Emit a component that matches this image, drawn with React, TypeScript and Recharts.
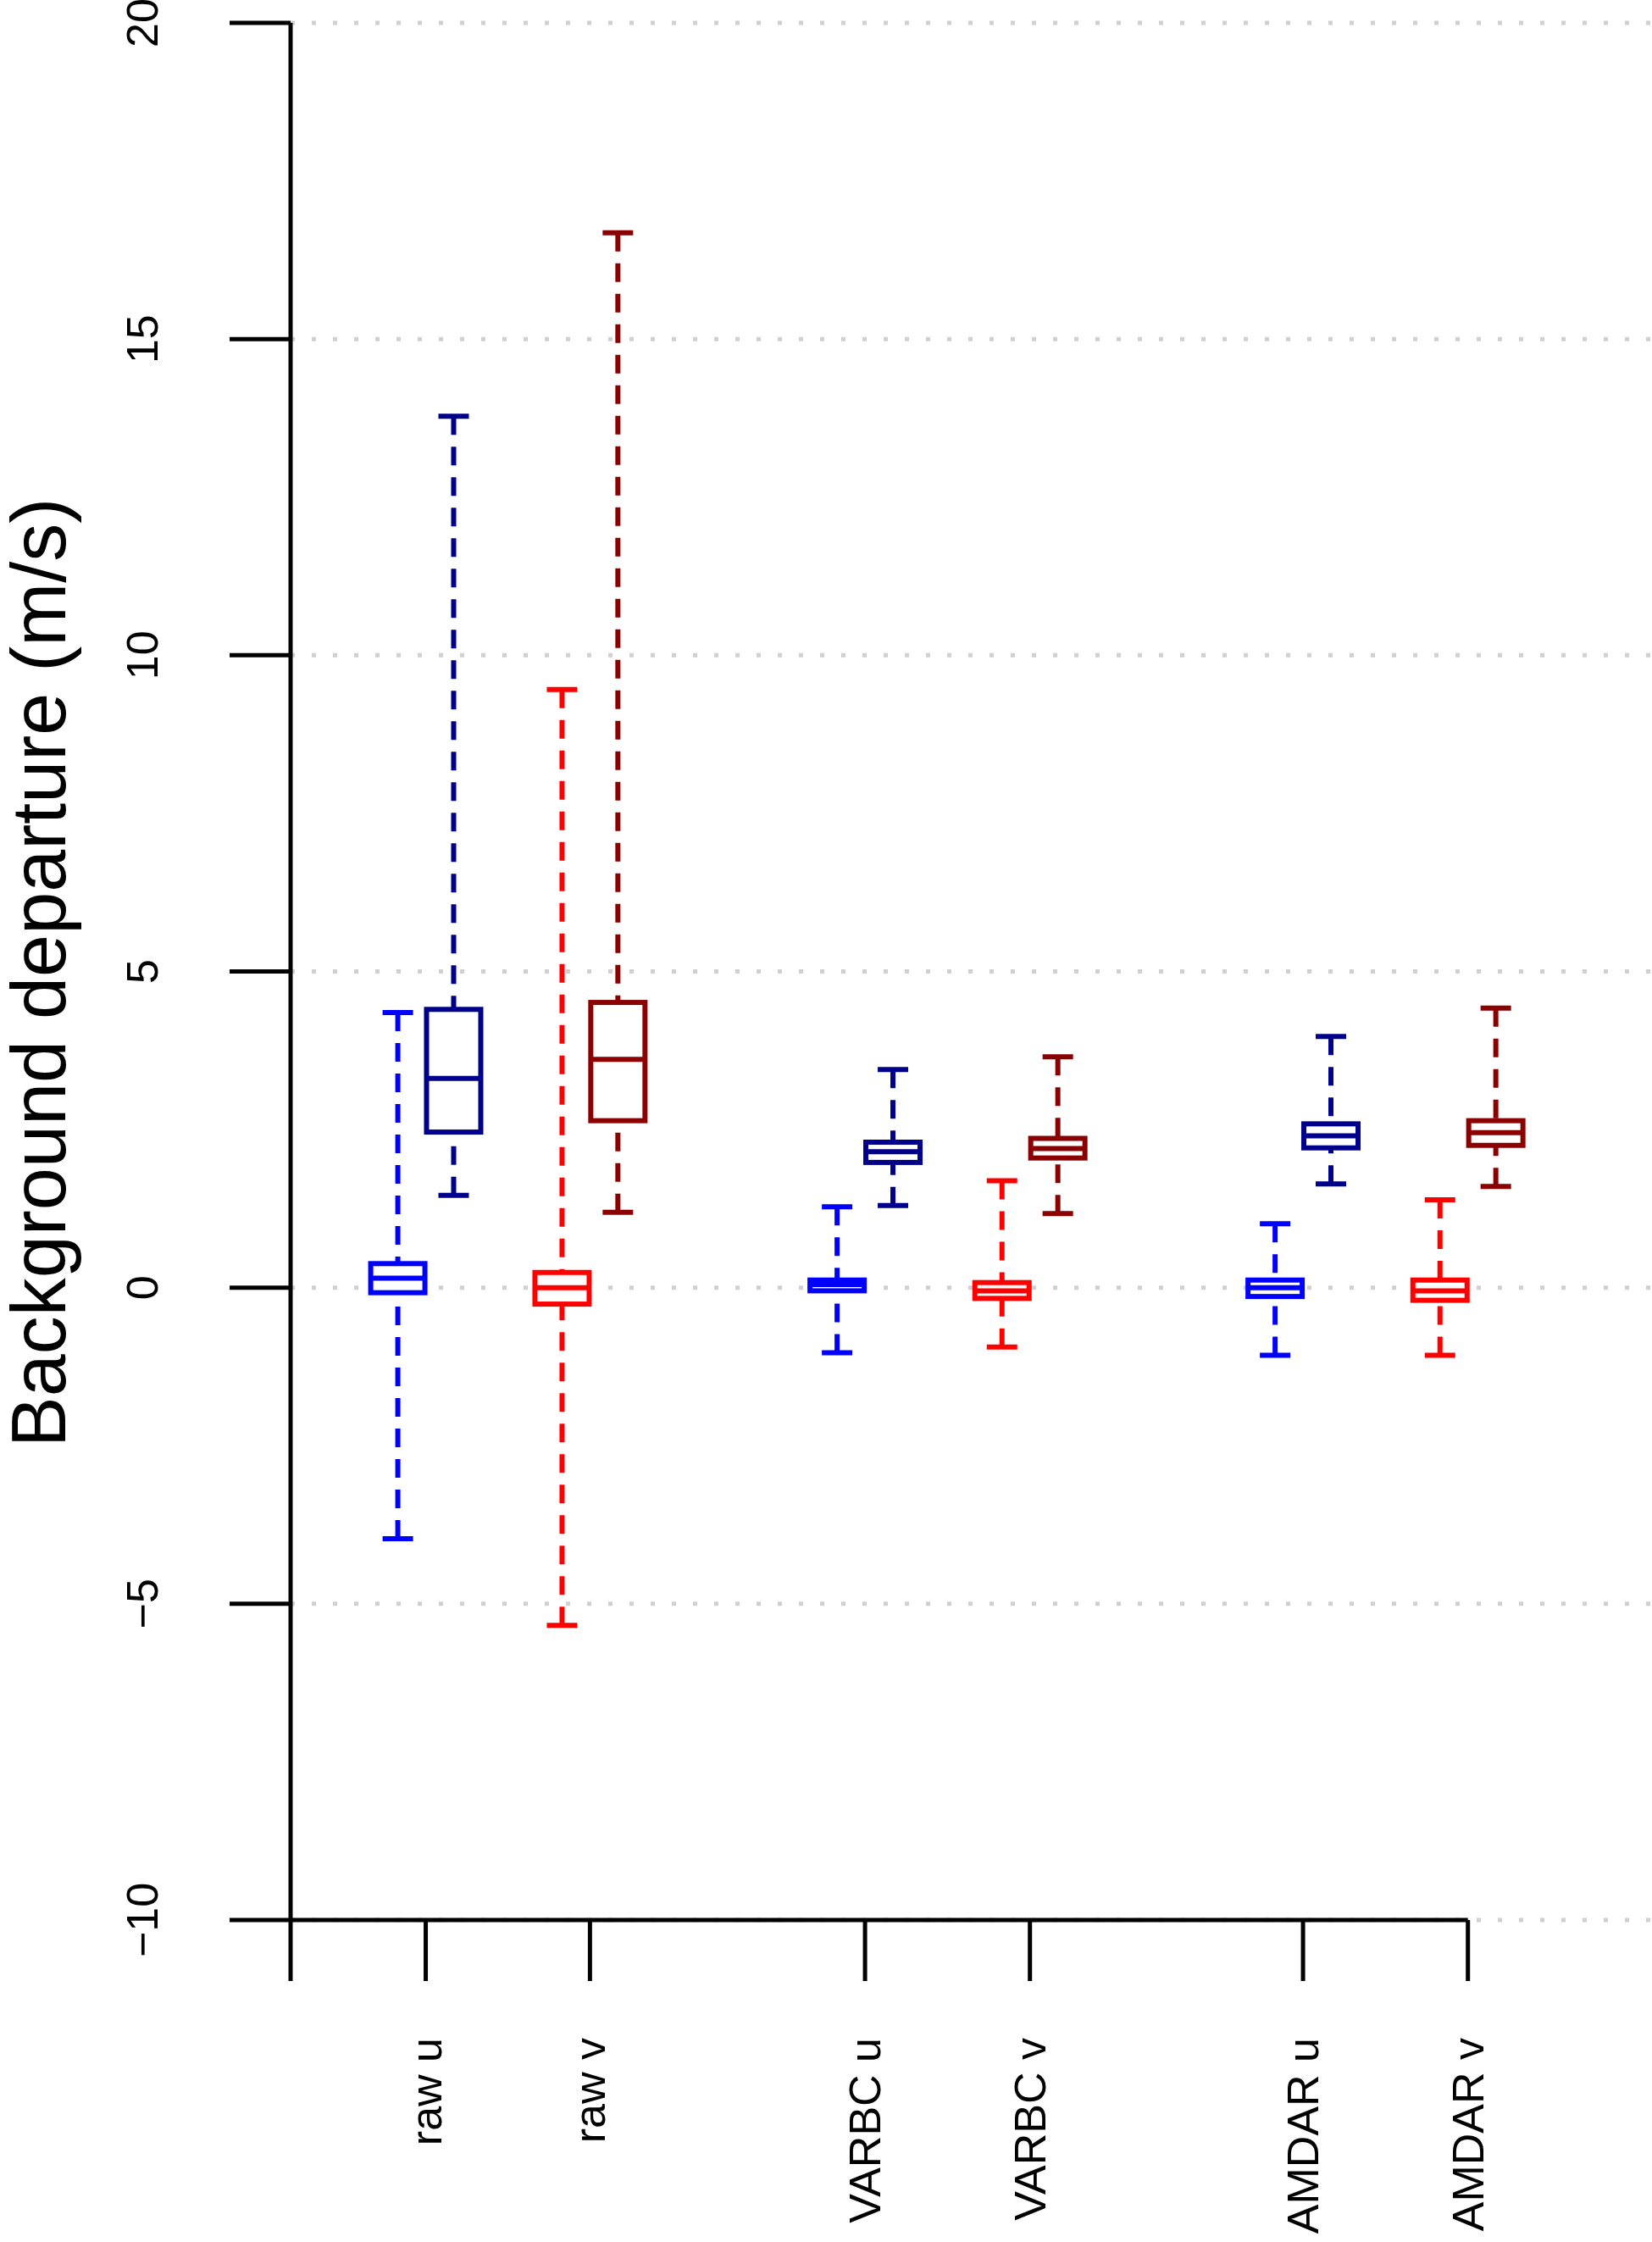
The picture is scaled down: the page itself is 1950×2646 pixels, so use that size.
import React from "react";
import {
  ComposedChart,
  Scatter,
  XAxis,
  YAxis,
  CartesianGrid,
  ReferenceLine,
} from "recharts";

const categories = ["", "raw u", "raw v", "VARBC u", "VARBC v", "AMDAR u", "AMDAR v"];
const tickPos = [0, 0.823, 1.823, 3.498, 4.502, 6.165, 7.169];
const yTicks = [-10, -5, 0, 5, 10, 15, 20];

// u groups sit at tickPos[1], [3], [5]; v groups at [2], [4], [6]
const uBlueLow = [-3.97, -1.03, -1.07];
const uBlueQ1 = [-0.08, -0.05, -0.14];
const uBlueMed = [0.15, 0.05, 0.0];
const uBlueQ3 = [0.38, 0.12, 0.12];
const uBlueHigh = [4.35, 1.28, 1.01];

const uNavyLow = [1.46, 1.3, 1.64];
const uNavyQ1 = [2.46, 1.98, 2.21];
const uNavyMed = [3.31, 2.15, 2.4];
const uNavyQ3 = [4.4, 2.3, 2.59];
const uNavyHigh = [13.78, 3.45, 3.97];

const vRedLow = [-5.34, -0.94, -1.07];
const vRedQ1 = [-0.26, -0.17, -0.2];
const vRedMed = [0.0, -0.05, -0.05];
const vRedQ3 = [0.24, 0.08, 0.12];
const vRedHigh = [9.46, 1.69, 1.39];

const vDarkLow = [1.19, 1.17, 1.6];
const vDarkQ1 = [2.64, 2.05, 2.25];
const vDarkMed = [3.61, 2.2, 2.45];
const vDarkQ3 = [4.51, 2.36, 2.64];
const vDarkHigh = [16.68, 3.65, 4.42];

const W = 1950;
const H = 2646;
const TOP = 27;
const BOTTOM = 2266;
const LEFT = 343;
const Y_MIN = -10;
const Y_MAX = 20;
const K = (BOTTOM - TOP) / (Y_MAX - Y_MIN);
const OFF = 0.17;
const FONT = "Liberation Sans, Arial, sans-serif";

function build(pos: number[], off: number, low: number[], q1: number[], med: number[], q3: number[], high: number[]) {
  return pos.map((p, i) => ({ x: p + off, y: med[i], low: low[i], q1: q1[i], med: med[i], q3: q3[i], high: high[i] }));
}

const uPos = [tickPos[1], tickPos[3], tickPos[5]];
const vPos = [tickPos[2], tickPos[4], tickPos[6]];
const blueData = build(uPos, -OFF, uBlueLow, uBlueQ1, uBlueMed, uBlueQ3, uBlueHigh);
const navyData = build(uPos, OFF, uNavyLow, uNavyQ1, uNavyMed, uNavyQ3, uNavyHigh);
const redData = build(vPos, -OFF, vRedLow, vRedQ1, vRedMed, vRedQ3, vRedHigh);
const darkData = build(vPos, OFF, vDarkLow, vDarkQ1, vDarkMed, vDarkQ3, vDarkHigh);

const boxShape = (color: string) => (props: any) => {
  const { cx, cy, payload } = props;
  const py = (v: number) => cy - (v - payload.med) * K;
  const hw = 32;
  const cw = 18;
  const sw = 6;
  return (
    <g>
      <line x1={cx} x2={cx} y1={py(payload.high)} y2={py(payload.q3)} stroke={color} strokeWidth={sw} strokeDasharray="22 14" />
      <line x1={cx} x2={cx} y1={py(payload.low)} y2={py(payload.q1)} stroke={color} strokeWidth={sw} strokeDasharray="22 14" />
      <line x1={cx - cw} x2={cx + cw} y1={py(payload.high)} y2={py(payload.high)} stroke={color} strokeWidth={sw} />
      <line x1={cx - cw} x2={cx + cw} y1={py(payload.low)} y2={py(payload.low)} stroke={color} strokeWidth={sw} />
      <rect x={cx - hw} y={py(payload.q3)} width={hw * 2} height={py(payload.q1) - py(payload.q3)} fill="#fff" stroke={color} strokeWidth={sw} />
      <line x1={cx - hw} x2={cx + hw} y1={cy} y2={cy} stroke={color} strokeWidth={sw} />
    </g>
  );
};

const YTick = (props: any) => {
  const { y, payload } = props;
  return (
    <text x={168} y={y} transform={`rotate(-90 168 ${y})`} textAnchor="middle" dominantBaseline="central" fontSize={52} fontFamily={FONT} fill="#000">
      {payload.value < 0 ? `\u2212${Math.abs(payload.value)}` : payload.value}
    </text>
  );
};

const XTick = (props: any) => {
  const { x, payload } = props;
  const idx = tickPos.indexOf(payload.value);
  const label = categories[idx] ?? "";
  const ty = 2405;
  return (
    <text x={x} y={ty} transform={`rotate(-90 ${x} ${ty})`} textAnchor="end" dominantBaseline="central" fontSize={52} fontFamily={FONT} fill="#000">
      {label}
    </text>
  );
};

export default function App() {
  return (
    <div style={{ position: "absolute", left: 0, top: 0, width: W, height: H, background: "#fff" }}>
      <ComposedChart width={W} height={H} margin={{ top: TOP, right: 0, bottom: 0, left: 0 }}>
        <CartesianGrid horizontal vertical={false} stroke="#d0d0d0" strokeWidth={5} strokeDasharray="5 20" />
        <XAxis
          type="number"
          dataKey="x"
          domain={[0, 8.29]}
          ticks={tickPos}
          interval={0}
          height={H - BOTTOM}
          axisLine={false}
          tickSize={72}
          tickLine={{ stroke: "#000", strokeWidth: 5 }}
          tick={<XTick />}
          allowDataOverflow
        />
        <YAxis
          type="number"
          domain={[Y_MIN, Y_MAX]}
          ticks={yTicks}
          interval={0}
          width={LEFT}
          tickSize={72}
          axisLine={{ stroke: "#000", strokeWidth: 5 }}
          tickLine={{ stroke: "#000", strokeWidth: 5 }}
          tick={<YTick />}
          allowDataOverflow
        />
        <ReferenceLine
          segment={[{ x: 0, y: -10 }, { x: tickPos[6], y: -10 }]}
          stroke="#000"
          strokeWidth={5}
          ifOverflow="visible"
        />
        <Scatter data={blueData} dataKey="y" shape={boxShape("#0000ff")} isAnimationActive={false} />
        <Scatter data={navyData} dataKey="y" shape={boxShape("#00008b")} isAnimationActive={false} />
        <Scatter data={redData} dataKey="y" shape={boxShape("#ff0000")} isAnimationActive={false} />
        <Scatter data={darkData} dataKey="y" shape={boxShape("#8b0000")} isAnimationActive={false} />
        <text x={46} y={1148} transform="rotate(-90 46 1148)" textAnchor="middle" dominantBaseline="central" fontSize={90} fontFamily={FONT} fill="#000">
          Background departure (m/s)
        </text>
      </ComposedChart>
    </div>
  );
}
